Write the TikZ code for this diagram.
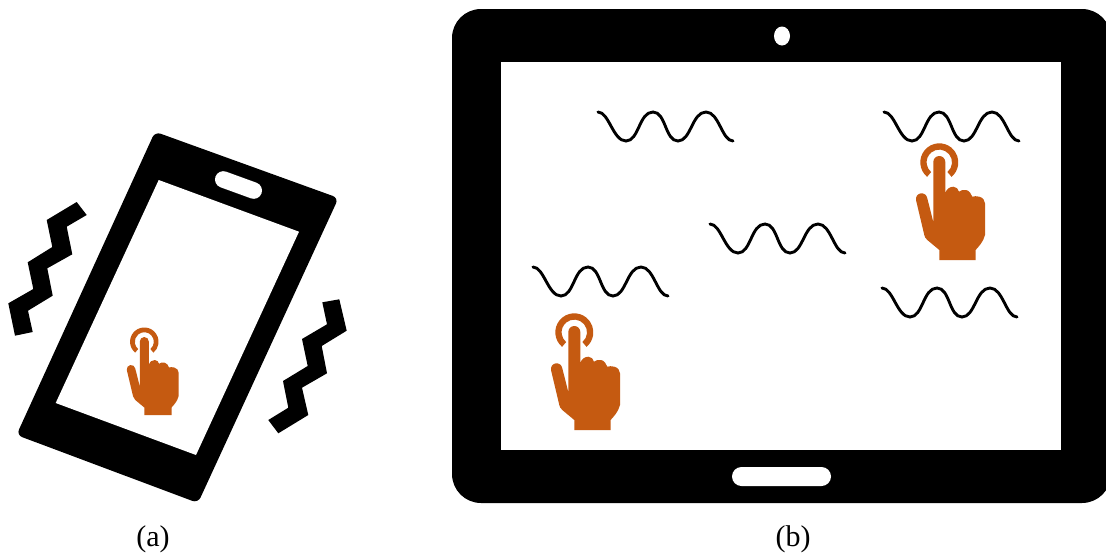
\documentclass[tikz,border=0pt]{standalone}
\usepackage{fontspec}
\setmainfont{Liberation Serif}
\definecolor{handorange}{HTML}{C55A11}
\tikzset{
  wave/.pic={
    \draw[black,line width=2.9pt,line cap=round]
      (0,0) .. controls (11,0) and (15,29) .. (28,29)
      .. controls (41,29) and (41,0) .. (55,0)
      .. controls (68,0) and (67,29) .. (80,29)
      .. controls (93,29) and (94,0) .. (108,0)
      .. controls (121,0) and (124,29) .. (135,29);
  },
  hand/.pic={
    \fill[handorange]
      (-6,-98) arc[start angle=180,end angle=360,radius=6]
      -- (6,-66.7)
      .. controls (7,-71) and (10.5,-73.3) .. (14,-73.3)
      .. controls (17,-73.3) and (19,-71) .. (19.7,-68.3)
      .. controls (22,-70) and (24,-70.5) .. (26.7,-70)
      .. controls (30,-69.5) and (32,-66) .. (33,-63.3)
      .. controls (35,-64) and (37,-64) .. (40,-63.3)
      .. controls (43.5,-62.5) and (45.7,-59.5) .. (45.7,-56.7)
      -- (45.7,-25) .. controls (44,-18) and (39,-13) .. (36.3,-10)
      -- (36.3,0) -- (0,0) -- (0,-10)
      -- (-12,-20) .. controls (-14,-22) and (-14.5,-23) .. (-15,-25)
      -- (-23.3,-60)
      arc[start angle=170,end angle=350,radius=5.7]
      -- (-6,-38) -- cycle;
    \fill[handorange]
      (0,-97.7) ++(130:19) arc[start angle=130,end angle=410,radius=19]
      -- ++(230:6.3) arc[start angle=50,end angle=-230,radius=12.7] -- cycle;
  }
}
\begin{document}
\begin{tikzpicture}[x=1pt,y=-1pt,line join=miter]
\useasboundingbox (0,0) rectangle (1106,552);
% phone
\fill[black,rounded corners=6pt] (155,131.7) -- (338.5,198) -- (198,503) -- (16.5,435) -- cycle;
\fill[white] (158.7,180) -- (299,231.7) -- (196,455) -- (55.7,403) -- cycle;
\fill[white,rotate around={-20:(238.5,185)},rounded corners=8.3pt] (214,176.7) rectangle (263,193.3);
% vibration marks
\fill[black] (76.7,202) -- (86.7,215) -- (66.7,226.7) -- (72.3,254.3) -- (47.3,268.3) -- (52.7,295.7) -- (28,310.7) -- (32.7,332) -- (15,335.7) -- (8.3,303.3) -- (33.3,289) -- (27.7,262.3) -- (52.3,247) -- (46.7,220) -- cycle;
\fill[black] (322.3,302.3) -- (339.3,299.3) -- (346.7,330.7) -- (321.7,346) -- (327,373.3) -- (302,387.7) -- (308.3,415) -- (278.3,433.3) -- (268.3,420) -- (288.3,407.7) -- (283,381) -- (307.7,366) -- (302,339) -- (327,324.3) -- cycle;
% tablet
\begin{scope}
\clip (0,0) rectangle (1106,552);
\fill[black,rounded corners=29pt] (452,9) rectangle (1111,503);
\end{scope}
\fill[white] (501,62) rectangle (1061,450);
\fill[white] (782,36) ellipse[x radius=8,y radius=9.5];
\fill[white,rounded corners=9.5pt] (732,467) rectangle (831,486);
% waves
\path (598,112) pic {wave};
\path (884,112) pic {wave};
\path (710,224) pic {wave};
\path (533,267) pic {wave};
\path (882,288) pic {wave};
% hands
\path (144.3,415) pic[scale=0.75] {hand};
\path (574.3,430) pic {hand};
\path (939.3,260) pic {hand};
% labels
\node[font=\fontsize{30}{34}\selectfont,anchor=base] (la) at (153,546) {(a)};
\node[font=\fontsize{30}{34}\selectfont,anchor=base] (lb) at (793,546) {(b)};
\end{tikzpicture}
\end{document}
